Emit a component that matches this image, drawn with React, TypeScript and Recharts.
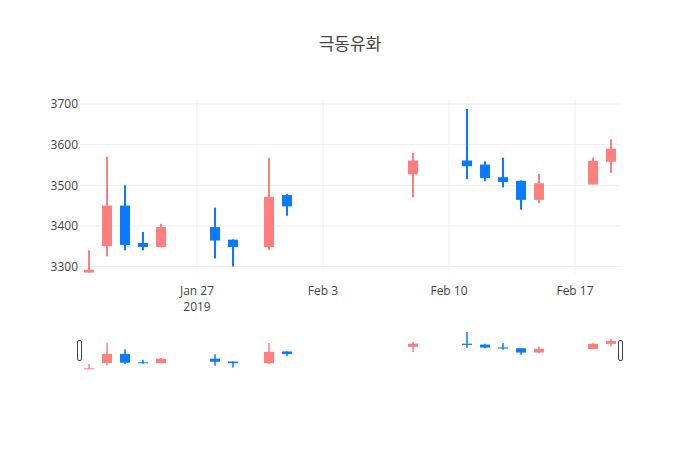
import { ComposedChart, Bar, XAxis, YAxis, CartesianGrid } from "recharts";

const dates = [
    "2019-01-21", "2019-01-22", "2019-01-23", "2019-01-24", "2019-01-25",
    "2019-01-28", "2019-01-29", "2019-01-31", "2019-02-01", "2019-02-08",
    "2019-02-11", "2019-02-12", "2019-02-13", "2019-02-14", "2019-02-15",
    "2019-02-18", "2019-02-19",
];
const open = [3285, 3350, 3450, 3358, 3348, 3397, 3366, 3348, 3476, 3527, 3561, 3551, 3520, 3511, 3464, 3502, 3558];
const high = [3340, 3570, 3500, 3385, 3405, 3445, 3367, 3568, 3479, 3580, 3688, 3559, 3568, 3512, 3528, 3568, 3613];
const low = [3285, 3325, 3340, 3340, 3347, 3320, 3300, 3341, 3425, 3470, 3515, 3510, 3495, 3440, 3456, 3502, 3530];
const close = [3292, 3450, 3353, 3348, 3397, 3364, 3348, 3471, 3448, 3561, 3547, 3518, 3508, 3464, 3505, 3560, 3590];

const tickDates = ["2019-01-27", "2019-02-03", "2019-02-10", "2019-02-17"];
const tickLabels = ["Jan 27", "Feb 3", "Feb 10", "Feb 17"];
const yTicks = [3300, 3400, 3500, 3600, 3700];
const yDomain = [3284, 3710];

const UP = "#ff7f7f";
const DOWN = "#0a7bff";
const FONT = '"Open Sans", "Noto Sans CJK KR", sans-serif';
const DAY = 86400000;

const toTs = (d: string) => {
    const [y, m, dd] = d.split("-").map(Number);
    return Date.UTC(y, m - 1, dd);
};

const data = dates.map((d, i) => ({
    ts: toTs(d),
    open: open[i],
    high: high[i],
    low: low[i],
    close: close[i],
    range: [low[i], high[i]],
}));

const xDomain = [toTs(dates[0]) - DAY / 2, toTs(dates[dates.length - 1]) + DAY / 2];
const ticks = tickDates.map(toTs);

// grid only at the tick values, no frame around the plot
const hLines = ({ offset }: any) =>
    yTicks.map((v) => offset.top + (offset.height * (yDomain[1] - v)) / (yDomain[1] - yDomain[0]));
const vLines = ({ offset }: any) =>
    ticks.map((v) => offset.left + (offset.width * (v - xDomain[0])) / (xDomain[1] - xDomain[0]));

const makeCandle = (wick: number) => (props: any) => {
    const { x, y, width, height, payload } = props;
    const top = Math.min(y, y + height);
    const h = Math.abs(height);
    const span = payload.high - payload.low || 1;
    const k = h / span;
    const yOpen = top + (payload.high - payload.open) * k;
    const yClose = top + (payload.high - payload.close) * k;
    const color = payload.close >= payload.open ? UP : DOWN;
    const cx = x + width / 2;
    const bodyTop = Math.min(yOpen, yClose);
    const bodyH = Math.max(1, Math.abs(yOpen - yClose));
    return (
        <g>
            <rect x={cx - wick / 2} y={top} width={wick} height={Math.max(h, 1)} fill={color} />
            <rect x={x} y={bodyTop} width={width} height={bodyH} fill={color} />
        </g>
    );
};

const XTick = (props: any) => {
    const { x, payload } = props;
    const i = ticks.indexOf(payload.value);
    return (
        <g>
            <text x={x} y={295} textAnchor="middle" fill="#444" fontSize={12} fontFamily={FONT}>
                {tickLabels[i]}
            </text>
            {i === 0 && (
                <text x={x} y={311} textAnchor="middle" fill="#444" fontSize={12} fontFamily={FONT}>
                    2019
                </text>
            )}
        </g>
    );
};

const handleStyle = (left: number) => ({
    position: "absolute" as const,
    left,
    top: 340,
    width: 3,
    height: 19,
    border: "1px solid #444",
    borderRadius: 2,
    background: "#fff",
});

export default function App() {
    return (
        <div style={{ position: "absolute", left: 0, top: 0, width: 700, height: 450, background: "#fff" }}>
            <div
                style={{
                    position: "absolute",
                    top: 30,
                    width: 700,
                    textAlign: "center",
                    fontFamily: FONT,
                    fontSize: 17,
                    color: "#444",
                }}
            >
                극동유화
            </div>

            <div style={{ position: "absolute", left: 0, top: 0 }}>
                <ComposedChart
                    width={700}
                    height={330}
                    data={data}
                    margin={{ top: 100, right: 80, left: 0, bottom: 0 }}
                >
                    <CartesianGrid
                        stroke="#eee"
                        strokeWidth={1}
                        horizontalCoordinatesGenerator={hLines}
                        verticalCoordinatesGenerator={vLines}
                    />
                    <XAxis
                        dataKey="ts"
                        type="number"
                        domain={xDomain}
                        ticks={ticks}
                        tick={<XTick />}
                        tickLine={false}
                        axisLine={false}
                        tickSize={0}
                        height={57}
                        allowDataOverflow
                    />
                    <YAxis
                        type="number"
                        domain={yDomain}
                        ticks={yTicks}
                        width={80}
                        tickLine={false}
                        axisLine={false}
                        tickSize={0}
                        tickMargin={2}
                        tick={{ fill: "#444", fontSize: 12, fontFamily: FONT }}
                        allowDataOverflow
                    />
                    <Bar dataKey="range" barSize={10} shape={makeCandle(2)} isAnimationActive={false} />
                </ComposedChart>
            </div>

            <div style={{ position: "absolute", left: 0, top: 0 }}>
                <ComposedChart
                    width={700}
                    height={372}
                    data={data}
                    margin={{ top: 330, right: 80, left: 80, bottom: 0 }}
                >
                    <XAxis dataKey="ts" type="number" domain={xDomain} hide allowDataOverflow />
                    <YAxis type="number" domain={[3252, 3710]} hide allowDataOverflow />
                    <Bar dataKey="range" barSize={10} shape={makeCandle(1.5)} isAnimationActive={false} />
                </ComposedChart>
            </div>

            <div style={handleStyle(77)} />
            <div style={handleStyle(618)} />
        </div>
    );
}
